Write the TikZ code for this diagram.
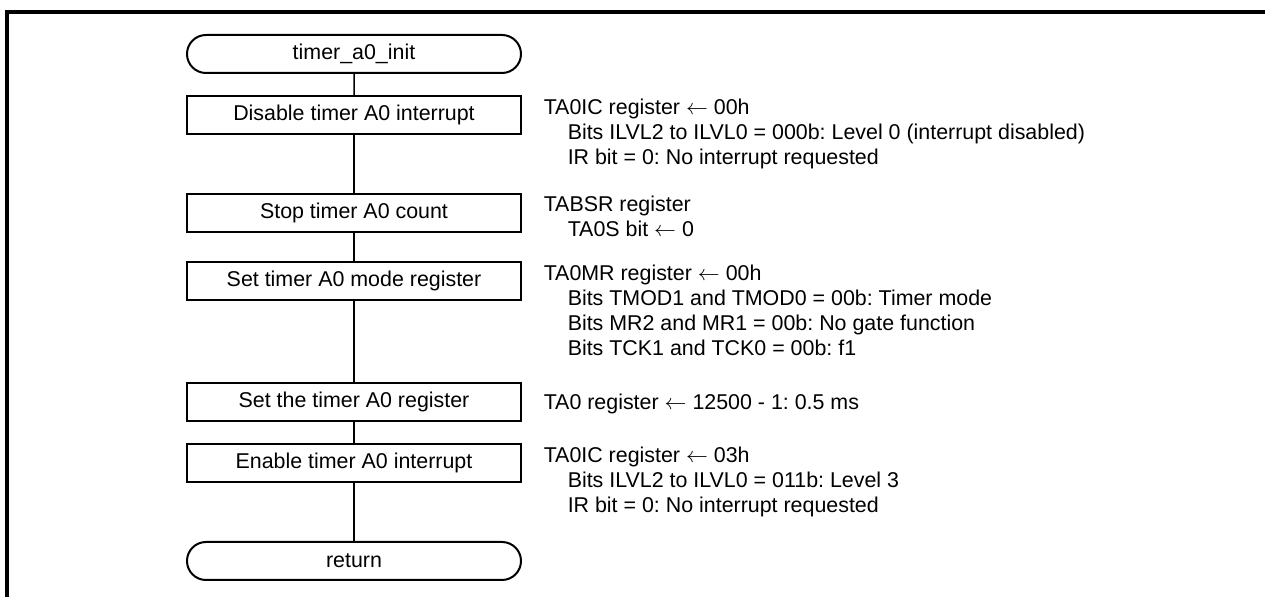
\documentclass[tikz,border=0pt]{standalone}
\usepackage{fontspec}
\setmainfont{Liberation Sans}
\usetikzlibrary{shapes.misc}
\newcommand{\subline}{\hspace*{12pt}}
\newcommand{\getsarrow}{$\leftarrow$}
\frenchspacing

\begin{document}
\begin{tikzpicture}[x=0.5pt, y=-0.5pt, line width=0.75pt,
    every node/.style={font=\fontsize{10.7pt}{12.5pt}\selectfont},
    procbox/.style={draw, line width=1pt, minimum width=167pt, minimum height=19pt, inner sep=0pt},
    termbox/.style={procbox, rounded rectangle},
    note/.style={anchor=north west, align=left, inner sep=0pt}]
    \useasboundingbox (0,0) rectangle (1265,597);
    \draw[line width=1.8pt] (7,597) -- (7,12) -- (1265,12);
    % flow
    \node[termbox] (init) at (354,54) {timer\_a0\_init};
    \node[procbox] (dis) at (354,115) {Disable timer A0 interrupt};
    \node[procbox] (stop) at (354,213) {Stop timer A0 count};
    \node[procbox] (mode) at (354,281) {Set timer A0 mode register};
    \node[procbox] (reg) at (354,402) {Set the timer A0 register};
    \node[procbox] (ena) at (354,463) {Enable timer A0 interrupt};
    \node[termbox] (ret) at (354,561) {return};
    \foreach \a/\b in {init/dis, dis/stop, stop/mode, mode/reg, reg/ena, ena/ret}
      \draw (\a) -- (\b);
    % comments
    \node[note] (disnote) at (543,98.5) {TA0IC register \getsarrow{} 00h\\
      \subline Bits ILVL2 to ILVL0 = 000b: Level 0 (interrupt disabled)\\
      \subline IR bit = 0: No interrupt requested};
    \node[note] (stopnote) at (543,195.5) {TABSR register\\
      \subline TA0S bit \getsarrow{} 0};
    \node[note] (modenote) at (543,264.5) {TA0MR register \getsarrow{} 00h\\
      \subline Bits TMOD1 and TMOD0 = 00b: Timer mode\\
      \subline Bits MR2 and MR1 = 00b: No gate function\\
      \subline Bits TCK1 and TCK0 = 00b: f1};
    \node[note] (regnote) at (543,393.5) {TA0 register \getsarrow{} 12500 - 1: 0.5 ms};
    \node[note] (enanote) at (543,446.5) {TA0IC register \getsarrow{} 03h\\
      \subline Bits ILVL2 to ILVL0 = 011b: Level 3\\
      \subline IR bit = 0: No interrupt requested};
\end{tikzpicture}
\end{document}
